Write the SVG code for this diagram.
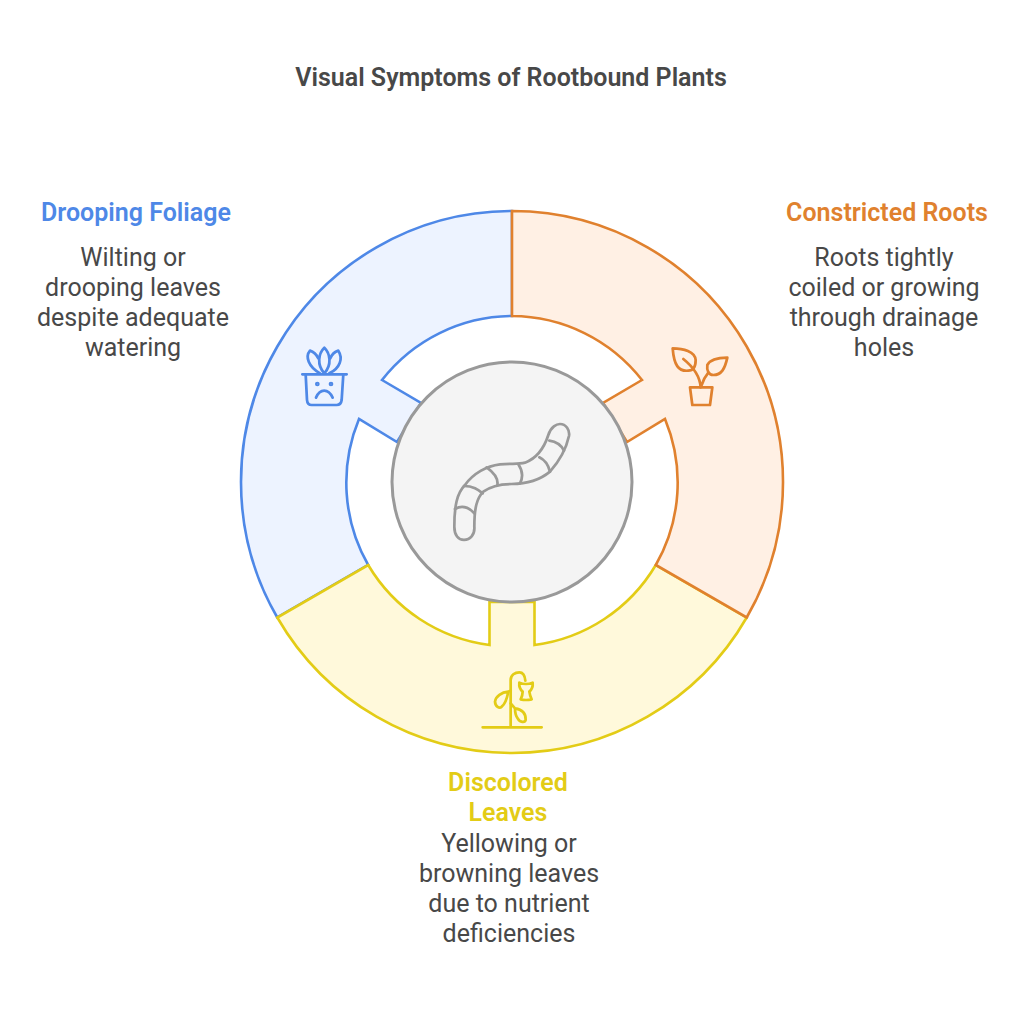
<svg xmlns="http://www.w3.org/2000/svg" width="1024" height="1009" viewBox="0 0 1024 1009">
<style>
text{font-family:Roboto,"Liberation Sans",sans-serif;text-anchor:middle}
.t{font-size:25px;font-weight:600;fill:#484848}
.h{font-size:25px;font-weight:600}
.b{font-size:25px;font-weight:400;fill:#484848}
.seg{stroke-width:2.6;stroke-linejoin:miter}
.ic{fill:none;stroke-width:8.2;stroke-linecap:round;stroke-linejoin:round}
</style>
<rect width="1024" height="1009" fill="#fff"/>
<text class="t" x="511" y="85.6">Visual Symptoms of Rootbound Plants</text>
<g id="node-drooping">
<path class="seg" fill="#EDF3FF" stroke="#4E88E7" d="M512,211A271,271 0 0 0 277.3,617.5L368.2,565A166,166 0 0 1 359,419L397,442L421,403L382,380A166,166 0 0 1 512,316Z"/>
<g class="ic" stroke="#4E88E7" transform="translate(285 330) scale(.3333)">
<path d="M52,133H185M62,133L66,210Q67,225 80,225H155Q168,225 170,210L175,133"/>
<path d="M118,130C95,105 100,70 118,53C136,70 141,105 118,130Z"/>
<path d="M105,130C70,110 60,80 75,62C85,65 95,75 100,85M133,130C165,115 175,85 160,62C150,65 140,75 136,85"/>
<path d="M93,203C105,175 130,175 143,203"/>
<circle cx="97" cy="162" r="3"/><circle cx="138" cy="162" r="3"/>
</g>
<text class="h" fill="#4E88E7" x="136" y="220.6">Drooping Foliage</text>
<text class="b" x="133" y="265.6">Wilting or</text>
<text class="b" x="133" y="295.6">drooping leaves</text>
<text class="b" x="133" y="325.6">despite adequate</text>
<text class="b" x="133" y="355.6">watering</text>
</g>
<g id="node-discolored">
<path class="seg" fill="#FFF9DB" stroke="#E3CC16" d="M277.3,617.5A271,271 0 0 0 746.7,617.5L655.8,565A166,166 0 0 1 534.5,645V602H489.5V645A166,166 0 0 1 368.2,565Z"/>
<g class="ic" stroke="#E3CC16" transform="translate(470 660) scale(.3333)">
<path d="M38,202H215M122,202V60C122,45 135,37 148,37C160,37 165,50 166,62"/>
<path d="M148,68Q168,76 188,68Q190,85 178,95Q180,108 185,118Q168,122 152,118Q158,105 158,95Q146,85 148,68Z"/>
<path d="M122,92L115,95C95,97 77,108 75,125C76,140 88,147 95,140C108,130 112,110 115,95Z"/>
<path d="M122,130L135,145C155,148 168,160 167,180C165,188 150,188 143,175C135,165 135,155 135,145Z"/>
</g>
<text class="h" fill="#E3CC16" x="508" y="790.6">Discolored</text>
<text class="h" fill="#E3CC16" x="508" y="820.6">Leaves</text>
<text class="b" x="509" y="851.6">Yellowing or</text>
<text class="b" x="509" y="881.6">browning leaves</text>
<text class="b" x="509" y="911.6">due to nutrient</text>
<text class="b" x="509" y="941.6">deficiencies</text>
</g>
<g id="node-constricted">
<path class="seg" fill="#FFF0E4" stroke="#E0812E" d="M512,211A271,271 0 0 1 746.7,617.5L655.8,565A166,166 0 0 0 665,419L627,442L603,403L642,380A166,166 0 0 0 512,316Z"/>
<g class="ic" stroke="#E0812E" transform="translate(650 330) scale(.3333)">
<path d="M120,172H187L180,225H127Z"/>
<path d="M152,172C150,140 135,115 100,87M155,165C160,150 165,140 175,128"/>
<path d="M68,55C100,55 135,65 137,90C137,110 130,122 115,122C85,125 72,105 68,55Z"/>
<path d="M232,83C225,115 215,135 190,135C175,135 170,120 172,105C180,90 200,83 232,83Z"/>
</g>
<text class="h" fill="#E0812E" x="887" y="220.6">Constricted Roots</text>
<text class="b" x="884" y="265.6">Roots tightly</text>
<text class="b" x="884" y="295.6">coiled or growing</text>
<text class="b" x="884" y="325.6">through drainage</text>
<text class="b" x="884" y="355.6">holes</text>
</g>
<g id="node-center">
<circle cx="512" cy="482" r="120" fill="#F4F4F4" stroke="#999" stroke-width="3"/>
<g class="ic" stroke="#999" transform="translate(440 410) scale(.3333)">
<path d="M325,75C333,50 350,42 360,42C378,42 390,60 387,78C380,110 365,145 330,185C300,210 260,222 215,222C175,222 150,230 130,245C110,265 103,295 103,350C105,375 90,390 72,390C55,390 43,375 43,350C43,290 50,250 75,225C100,190 140,168 180,163C220,160 235,163 255,158C290,145 312,115 325,75Z"/>
<path d="M45,297Q75,280 103,310M72,228C100,228 115,240 128,250M140,172C165,190 175,210 172,226M235,163C250,185 248,205 240,220M298,142C315,150 325,165 330,185M328,92C350,95 365,108 372,122"/>
</g>
</g>
</svg>
